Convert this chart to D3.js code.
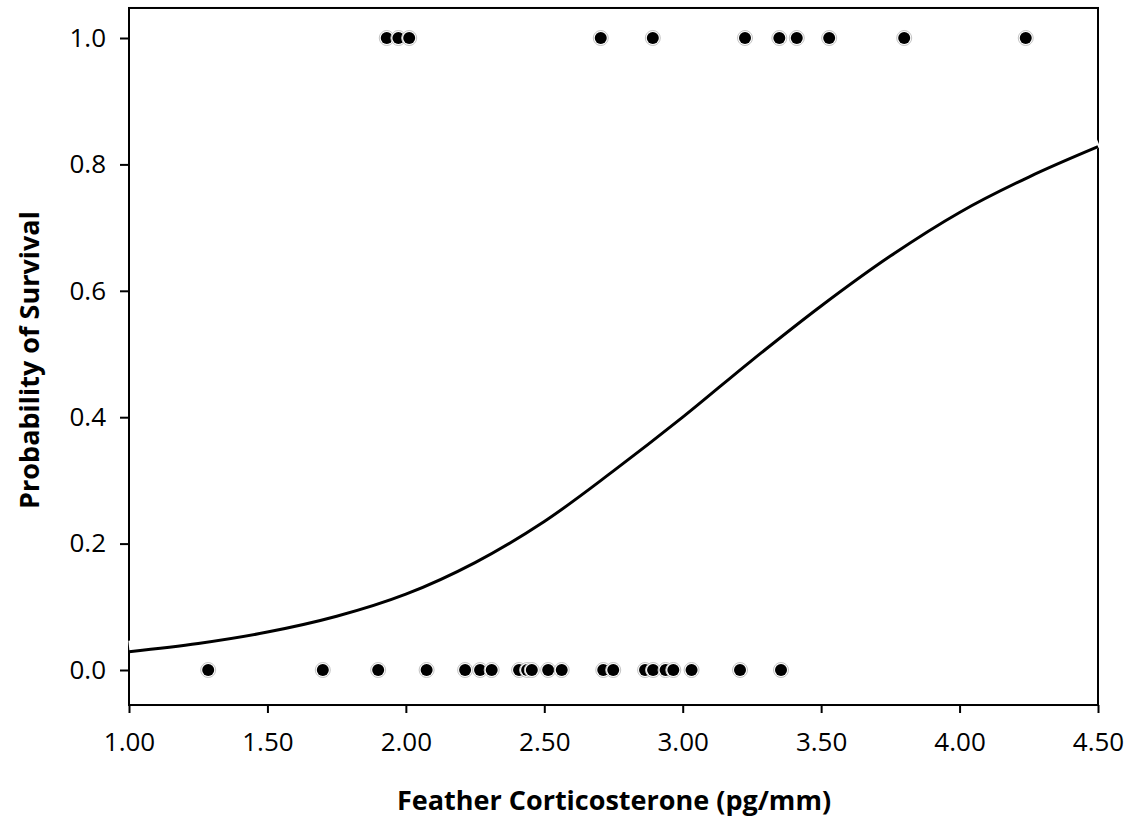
<!DOCTYPE html>
<html>
<head>
<meta charset="utf-8">
<script src="https://cdn.jsdelivr.net/npm/d3@7"></script>
<style>
  body { margin: 0; background: #fff; }
  .tick text { font-family: "Open Sans", sans-serif; font-size: 26px; fill: #000; }
  .tick line { stroke: #000; stroke-width: 2; }
  .title { font-family: "Open Sans", sans-serif; font-size: 27px; font-weight: bold; }
</style>
</head>
<body>
<svg id="chart" width="1139" height="831"></svg>
<script>
// survived (1) / died (0) birds by feather CORT
var survivedX = [1.931, 1.973, 2.012, 2.704, 2.892, 3.225, 3.349, 3.412, 3.529, 3.800, 4.239];
var diedX = [1.286, 1.700, 1.900, 2.075, 2.214, 2.268, 2.310, 2.409, 2.438, 2.455, 2.514,
             2.563, 2.713, 2.749, 2.864, 2.893, 2.938, 2.966, 3.032, 3.207, 3.355];

// fitted survival curve
var curveX = [1.00, 1.25, 1.50, 1.75, 2.00, 2.25, 2.50, 2.75, 3.00, 3.25, 3.50, 3.75, 4.00, 4.25, 4.50];
var curveP = [0.029, 0.042, 0.060, 0.085, 0.120, 0.170, 0.235, 0.315, 0.400, 0.490, 0.576, 0.655, 0.724, 0.780, 0.828];

var xTicks = [1.0, 1.5, 2.0, 2.5, 3.0, 3.5, 4.0, 4.5];
var yTicks = [0.0, 0.2, 0.4, 0.6, 0.8, 1.0];

var svg = d3.select("#chart");

var xScale = d3.scaleLinear().domain([1.0, 4.5]).range([129, 1098]);
var yScale = d3.scaleLinear().domain([0, 1]).range([670, 38]);
var yLow = -0.0554, yHigh = 1.0475;

var boxTop = yScale(yHigh), boxBottom = yScale(yLow);

// frame
svg.append("rect")
    .attr("x", xScale(1.0))
    .attr("y", boxTop)
    .attr("width", xScale(4.5) - xScale(1.0))
    .attr("height", boxBottom - boxTop)
    .attr("fill", "none")
    .attr("stroke", "#000")
    .attr("stroke-width", 2);

svg.append("g")
    .attr("transform", "translate(0," + boxBottom + ")")
    .call(d3.axisBottom(xScale).tickValues(xTicks).tickFormat(d3.format(".2f")).tickSize(8).tickPadding(20))
    .call(g => g.select(".domain").remove());

svg.append("g")
    .attr("transform", "translate(" + xScale(1.0) + ",0)")
    .call(d3.axisLeft(yScale).tickValues(yTicks).tickFormat(d3.format(".1f")).tickSize(9).tickPadding(14))
    .call(g => g.select(".domain").remove());

var curveData = curveX.map((x, i) => ({ x: x, p: curveP[i] }));

var line = d3.line()
    .x(d => xScale(d.x))
    .y(d => yScale(d.p))
    .curve(d3.curveCatmullRom.alpha(0.5));

// white halo behind the curve (breaks the frame where it ends)
svg.append("path")
    .datum(curveData)
    .attr("d", line)
    .attr("transform", "translate(0,-5)")
    .attr("fill", "none")
    .attr("stroke", "#fff")
    .attr("stroke-width", 12);

svg.append("path")
    .datum(curveData)
    .attr("d", line)
    .attr("fill", "none")
    .attr("stroke", "#000")
    .attr("stroke-width", 3);

var points = survivedX.map(x => ({ x: x, y: 1 })).concat(diedX.map(x => ({ x: x, y: 0 })));

var dots = svg.append("g").selectAll("g")
    .data(points)
    .enter().append("g")
    .attr("transform", d => "translate(" + xScale(d.x) + "," + yScale(d.y) + ")");

dots.append("circle")
    .attr("r", 7.5)
    .attr("fill", "#fff")
    .attr("stroke", "#c4c4c4")
    .attr("stroke-width", 1);

dots.append("circle")
    .attr("r", 6)
    .attr("fill", "#000");

svg.append("text")
    .attr("class", "title")
    .attr("x", 614)
    .attr("y", 810)
    .attr("text-anchor", "middle")
    .text("Feather Corticosterone (pg/mm)");

svg.append("text")
    .attr("class", "title")
    .attr("transform", "translate(39,360) rotate(-90)")
    .attr("text-anchor", "middle")
    .text("Probability of Survival");
</script>
</body>
</html>
